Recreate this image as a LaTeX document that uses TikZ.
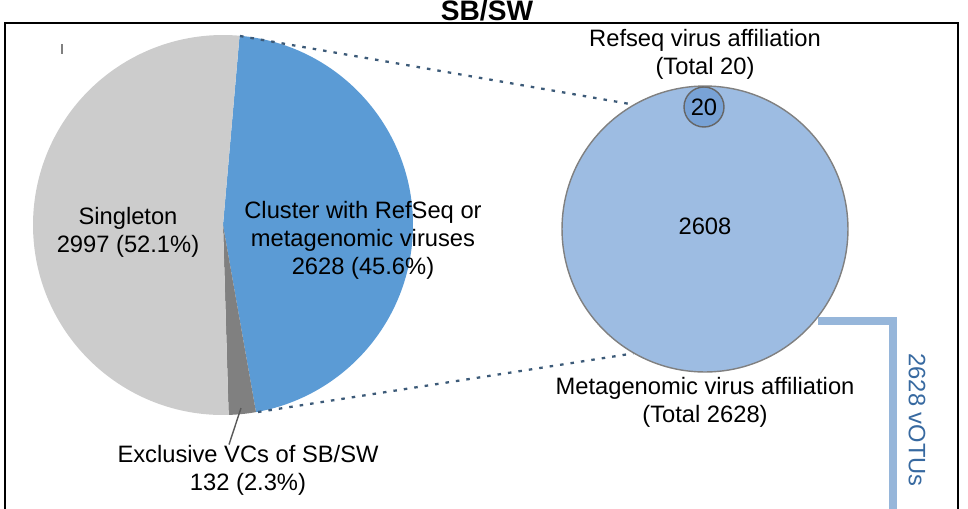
\documentclass[tikz,border=0pt]{standalone}
\usepackage{fontspec}
\setmainfont{Liberation Sans}
\usetikzlibrary{positioning}
\definecolor{pieblue}{RGB}{91,155,213}
\definecolor{piegray}{RGB}{204,204,204}
\definecolor{piedark}{RGB}{128,128,128}
\definecolor{vennblue}{RGB}{157,188,226}
\definecolor{vennsmall}{RGB}{120,162,214}
\definecolor{bracket}{RGB}{150,182,218}
\definecolor{votu}{RGB}{55,105,160}
\definecolor{dotline}{RGB}{60,90,120}
\tikzset{
  lbl/.style={align=center, font=\fontsize{13.5}{16}\selectfont, inner sep=0pt},
  dotted link/.style={dotline, line width=1.3pt, dash pattern=on 2pt off 4pt},
}
\begin{document}
\begin{tikzpicture}[x=0.02cm, y=-0.02cm]
  \useasboundingbox (0,0) rectangle (968,508);
  \draw[line width=1pt] (5,600) -- (5,23) -- (958,23) -- (958,600);
  \clip (0,0) rectangle (968,508);
  \node[inner sep=0pt] (title) at (487,11) {\fontsize{16}{18}\selectfont\bfseries SB/SW};

  % pie (angles mirrored because y points down)
  \coordinate (c) at (223,225);
  \fill[pieblue] (c) -- ++(-85:190) arc[start angle=-85, end angle=80, radius=190] -- cycle;
  \fill[piedark] (c) -- ++(80:190) arc[start angle=80, end angle=88.3, radius=190] -- cycle;
  \fill[piegray] (c) -- ++(88.3:190) arc[start angle=88.3, end angle=275, radius=190] -- cycle;
  \draw[gray, line width=0.6pt] (62,44) -- (62,54);
  \coordinate (pietop) at (240,36);
  \coordinate (piebot) at (258,412);
  \coordinate (lead) at (241,408);

  \node[lbl] (single) at (128,232) {Singleton\\2997 (52.1\%)};
  \node[lbl] (clust) at (363,240) {Cluster with RefSeq or\\metagenomic viruses\\2628 (45.6\%)};
  \node[lbl] (excl) at (248,470) {Exclusive VCs of SB/SW\\132 (2.3\%)};
  \draw[gray!70!black, line width=0.8pt] (lead) -- (excl.north -| 229,0);

  % venn
  \node[circle, draw=gray, fill=vennblue, line width=0.8pt, minimum size=5.72cm, inner sep=0pt] (meta) at (705,229) {};
  \node[circle, draw=gray!80!black, fill=vennsmall, line width=0.8pt, minimum size=0.8cm, inner sep=0pt] (ref) at (704,107) {};
  \node[lbl] at (ref) {20};
  \node[lbl] (n2608) at (705,226) {2608};
  \node[lbl] (reflab) at (705,54) {Refseq virus affiliation\\(Total 20)};
  \node[lbl] (metalab) at (705,402) {Metagenomic virus affiliation\\(Total 2628)};

  \draw[dotted link] (pietop) -- (meta.120);
  \draw[dotted link] (piebot) -- (meta.240);

  % bracket
  \coordinate (b1) at (818,321);
  \coordinate (b2) at (893,321);
  \coordinate (b3) at (893,520);
  \draw[bracket, line width=4pt] (b1) -- (b2) -- (b3);
  \node[lbl, text=votu, rotate=-90] (votus) at (917,420) {2628 vOTUs};
\end{tikzpicture}
\end{document}
